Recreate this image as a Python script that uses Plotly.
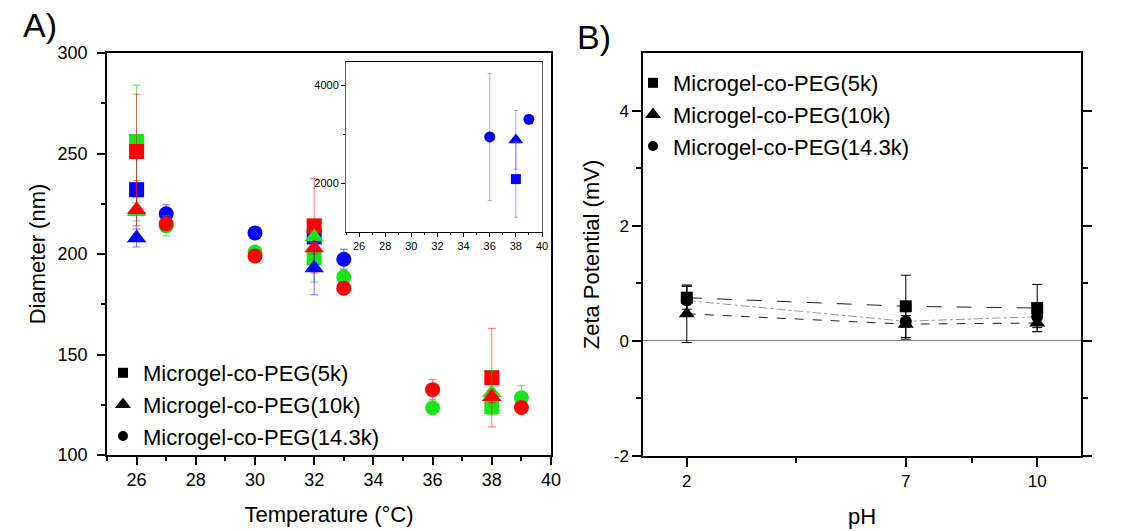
import plotly.graph_objects as go

W, H = 1139, 531

# ---------------- Panel A data (Temperature vs Diameter) ----------------
temp_sq = [26, 32, 38]
red_sq = [251, 214, 138.5]
red_sq_err = [28.5, 23.5, 24.5]
green_sq = [256, 198, 124]
green_sq_err = [28, 12, 3]
blue_sq_T = [26, 32]
blue_sq = [232, 208.5]
blue_sq_err = [18, 3]

temp_tri = [26, 32, 38]
red_tri = [222, 203, 129]
red_tri_err = [14.5, 3, 3]
green_tri = [221, 208.5, 131]
green_tri_err = [4.5, 3, 11]
blue_tri_T = [26, 32]
blue_tri = [208, 193]
blue_tri_err = [4.5, 13.3]

temp_cir = [27, 30, 33, 36, 39]
red_cir = [215, 199, 183, 132.5, 123.6]
red_cir_err = [2, 2, 2, 5, 2]
green_cir = [214, 201, 188.5, 123.5, 128.5]
green_cir_err = [5, 2, 3, 2, 6]
blue_cir_T = [27, 30, 33]
blue_cir = [220, 210.5, 197.4]
blue_cir_err = [4.5, 3, 5]

# inset (blue, large diameters)
inset_cir_T = [36, 39]
inset_cir = [2940, 3300]
inset_cir_err = [1300, 0]
inset_tri_T = [38]
inset_tri = [2880]
inset_tri_err = [600]
inset_sq_T = [38]
inset_sq = [2080]
inset_sq_err = [780]

# ---------------- Panel B data (pH vs Zeta potential) ----------------
ph = [2, 7, 10]
zeta_sq = [0.75, 0.60, 0.57]
zeta_sq_err = [0.2, 0.54, 0.41]
zeta_tri = [0.47, 0.29, 0.31]
zeta_tri_err = [0.5, 0.26, 0.15]
zeta_cir = [0.70, 0.34, 0.42]
zeta_cir_err = [0.25, 0.1, 0.19]

legend_labels = ["Microgel-co-PEG(5k)", "Microgel-co-PEG(10k)", "Microgel-co-PEG(14.3k)"]

RED, GREEN, BLUE = "#ff0000", "#19e619", "#0000ff"
RED_E, GREEN_E, BLUE_E = "rgba(255,0,0,0.55)", "rgba(0,210,0,0.6)", "rgba(0,0,255,0.55)"
FONT = "Liberation Sans, Arial, sans-serif"

fig = go.Figure()


def add_pts(x, y, err, color, ecolor, symbol, size, xa="x", ya="y", ew=4):
    fig.add_trace(go.Scatter(
        x=x, y=y, mode="markers", xaxis=xa, yaxis=ya, showlegend=False,
        marker=dict(symbol=symbol, size=size, color=color, line=dict(width=0)),
        error_y=dict(type="data", array=err, visible=True, color=ecolor, thickness=1, width=ew),
    ))


SQ, TRI, CIR = 15, 17, 15
add_pts(blue_sq_T, blue_sq, blue_sq_err, BLUE, BLUE_E, "square", SQ)
add_pts(temp_sq, green_sq, green_sq_err, GREEN, GREEN_E, "square", SQ)
add_pts(temp_sq, red_sq, red_sq_err, RED, RED_E, "square", SQ)
add_pts(temp_tri, green_tri, green_tri_err, GREEN, GREEN_E, "triangle-up", TRI)
add_pts(temp_tri, red_tri, red_tri_err, RED, RED_E, "triangle-up", TRI)
add_pts(blue_tri_T, blue_tri, blue_tri_err, BLUE, BLUE_E, "triangle-up", TRI)
add_pts(blue_cir_T, blue_cir, blue_cir_err, BLUE, BLUE_E, "circle", CIR)
add_pts(temp_cir, green_cir, green_cir_err, GREEN, GREEN_E, "circle", CIR)
add_pts(temp_cir, red_cir, red_cir_err, RED, RED_E, "circle", CIR)

# inset
add_pts(inset_cir_T, inset_cir, inset_cir_err, BLUE, "rgba(80,80,255,0.5)", "circle", 11, "x3", "y3", 2)
add_pts(inset_tri_T, inset_tri, inset_tri_err, BLUE, "rgba(80,80,255,0.5)", "triangle-up", 13, "x3", "y3", 2)
add_pts(inset_sq_T, inset_sq, inset_sq_err, BLUE, "rgba(80,80,255,0.5)", "square", 10, "x3", "y3", 2)

# Panel B
for yv, ev, sym, sz, dash, lc in [
    (zeta_sq, zeta_sq_err, "square", 12, "longdash", "#222"),
    (zeta_tri, zeta_tri_err, "triangle-up", 14, "dash", "#222"),
    (zeta_cir, zeta_cir_err, "circle", 12, "dashdot", "#999"),
]:
    fig.add_trace(go.Scatter(
        x=ph, y=yv, mode="lines+markers", xaxis="x2", yaxis="y2", showlegend=False,
        line=dict(color=lc, width=1, dash=dash),
        marker=dict(symbol=sym, size=sz, color="black"),
        error_y=dict(type="data", array=ev, visible=True, color="black", thickness=1, width=5),
    ))

# legend entries (black symbols)
for lg in ["legend", "legend2"]:
    for lab, sym, sz in zip(legend_labels, ["square", "triangle-up", "circle"], [10, 14, 10]):
        fig.add_trace(go.Scatter(
            x=[None], y=[None], mode="markers", name=lab, legend=lg,
            xaxis="x" if lg == "legend" else "x2", yaxis="y" if lg == "legend" else "y2",
            marker=dict(symbol=sym, size=sz, color="black"),
        ))

ax_common = dict(showline=True, linecolor="black", linewidth=1.5, showgrid=False, zeroline=False,
                 ticks="outside", tickcolor="black", tickwidth=1.5, automargin=False,
                 tickfont=dict(family=FONT, size=18, color="black"))

fig.update_layout(
    width=W, height=H,
    margin=dict(l=0, r=0, t=0, b=0),
    paper_bgcolor="white", plot_bgcolor="white",
    font=dict(family=FONT, color="black"),
    xaxis=dict(domain=[107 / W, 551 / W], range=[25, 40], tickvals=list(range(26, 41, 2)),
               ticklen=8, mirror=True, anchor="y",
               minor=dict(dtick=1, tick0=25, ticks="outside", ticklen=4, tickwidth=1.5, tickcolor="black"),
               title=dict(text="Temperature (°C)", font=dict(size=22), standoff=17), **ax_common),
    yaxis=dict(domain=[1 - 455 / H, 1 - 53 / H], range=[100, 300], tickvals=[100, 150, 200, 250, 300],
               ticklen=8, mirror=True, anchor="x", ticklabelstandoff=6,
               minor=dict(dtick=25, tick0=100, ticks="outside", ticklen=4, tickwidth=1.5, tickcolor="black"),
               title=dict(text="Diameter (nm)", font=dict(size=22), standoff=6), **ax_common),
    xaxis2=dict(domain=[643 / W, 1081 / W], range=[1, 11], tickvals=[2, 7, 10],
                ticklen=9, mirror=True, anchor="y2",
                minor=dict(tickmode="array", tickvals=[4.5, 8.5], ticks="outside", ticklen=5,
                           tickwidth=1.5, tickcolor="black"),
                title=dict(text="pH", font=dict(size=22), standoff=18),
                **{**ax_common, "tickfont": dict(family=FONT, size=17, color="black")}),
    yaxis2=dict(domain=[1 - 456 / H, 1 - 53 / H], range=[-2, 5], tickvals=[-2, 0, 2, 4],
                ticktext=["-2", "0", "2", "4"], ticklen=9, mirror="ticks", anchor="x2",
                minor=dict(tickmode="array", tickvals=[-1, 1, 3], ticks="outside", ticklen=5,
                           tickwidth=1.5, tickcolor="black"),
                title=dict(text="Zeta Potential (mV)", font=dict(size=22), standoff=8),
                **{**ax_common, "tickfont": dict(family=FONT, size=17, color="black")}),
    xaxis3=dict(domain=[346 / W, 542 / W], range=[25, 40], tickvals=list(range(26, 41, 2)),
                ticklen=4, mirror=True, anchor="y3",
                minor=dict(dtick=1, tick0=25, ticks="outside", ticklen=2, tickwidth=1, tickcolor="black"),
                **{**ax_common, "linewidth": 1, "tickwidth": 1,
                   "tickfont": dict(family=FONT, size=11, color="black")}),
    yaxis3=dict(domain=[1 - 232 / H, 1 - 62 / H], range=[1000, 4470], tickvals=[2000, 4000],
                ticklen=4, mirror=True, anchor="x3",
                minor=dict(tickmode="array", tickvals=[3000], ticks="outside", ticklen=2, tickwidth=1,
                           tickcolor="black"),
                **{**ax_common, "linewidth": 1, "tickwidth": 1, "linecolor": "#666",
                   "tickfont": dict(family=FONT, size=11, color="black")}),
    legend=dict(x=103 / W, y=1 - 352 / H, xanchor="left", yanchor="top", bgcolor="rgba(0,0,0,0)",
                font=dict(family=FONT, size=22, color="black"), itemsizing="trace", tracegroupgap=0),
    legend2=dict(x=633 / W, y=1 - 62 / H, xanchor="left", yanchor="top", bgcolor="rgba(0,0,0,0)",
                 font=dict(family=FONT, size=22, color="black"), itemsizing="trace", tracegroupgap=0),
    annotations=[
        dict(text="A)", x=40 / W, y=1 - 25 / H, xref="paper", yref="paper", showarrow=False,
             xanchor="center", yanchor="middle",
             font=dict(family=FONT, size=34, color="black")),
        dict(text="B)", x=594 / W, y=1 - 37 / H, xref="paper", yref="paper", showarrow=False,
             xanchor="center", yanchor="middle",
             font=dict(family=FONT, size=34, color="black")),
    ],
)
fig.update_yaxes(selector=dict(anchor="x2"), zeroline=True, zerolinecolor="#808080", zerolinewidth=1)

fig.write_html("out.html")
